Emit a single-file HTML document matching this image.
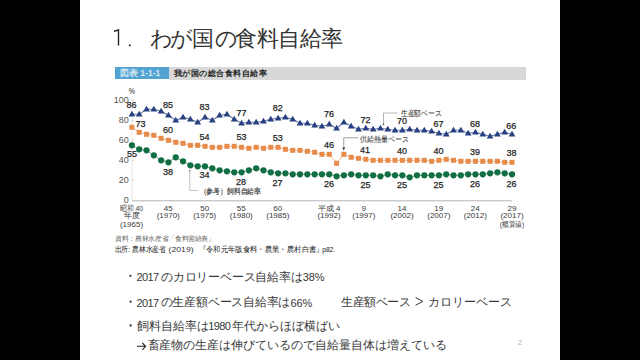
<!DOCTYPE html>
<html><head><meta charset="utf-8">
<style>
html,body{margin:0;padding:0;background:#000;width:640px;height:360px;overflow:hidden}
body{font-family:"Liberation Sans",sans-serif;position:relative}
#slide{position:absolute;left:80px;top:0;width:480px;height:360px;background:#fff}
.t{position:absolute;white-space:nowrap;line-height:1}
.b{font-size:12px;color:#383838}
.d{font-size:11px;letter-spacing:-0.6px}
svg{position:absolute;left:0;top:0}
svg text{font-family:"Liberation Sans",sans-serif}
</style></head><body>
<div id="slide"></div>
<svg width="640" height="360" viewBox="0 0 640 360">
<path d="M114,31.2L118.5,30.0L118.5,45.6" fill="none" stroke="#262626" stroke-width="1.4"/>
<rect x="128.9" y="44.4" width="1.8" height="1.8" fill="#262626"/>
<circle cx="130.4" cy="275.8" r="1.15" fill="#333"/><circle cx="130.6" cy="301.7" r="1.15" fill="#333"/><circle cx="130.7" cy="325.5" r="1.15" fill="#333"/>
<polyline points="415.6,297.6 422.9,301.4 415.6,305.2" fill="none" stroke="#333" stroke-width="1"/>
<path d="M137,346.3H145.4M142.3,343L145.6,346.3L142.3,349.8" fill="none" stroke="#222" stroke-width="1.1"/>
</svg>
<div class="t" style="left:150.00px;top:27.9px;font-size:22px;color:#333">わ</div><div class="t" style="left:169.90px;top:27.9px;font-size:22px;color:#333">が</div><div class="t" style="left:191.80px;top:27.9px;font-size:22px;color:#333">国</div><div class="t" style="left:214.60px;top:27.9px;font-size:22px;color:#333">の</div><div class="t" style="left:235.10px;top:27.9px;font-size:22px;color:#333">食</div><div class="t" style="left:257.20px;top:27.9px;font-size:22px;color:#333">料</div><div class="t" style="left:278.25px;top:27.9px;font-size:22px;color:#333">自</div><div class="t" style="left:300.00px;top:27.9px;font-size:22px;color:#333">給</div><div class="t" style="left:321.25px;top:27.9px;font-size:22px;color:#333">率</div>
<div style="position:absolute;left:115px;top:66.8px;width:53.6px;height:12.6px;background:#52a2d2"></div>
<div style="position:absolute;left:168.6px;top:66.8px;width:357px;height:12.8px;background:#d8d8d8"></div>
<div class="t" style="left:120px;top:69.3px;font-size:8.5px;color:#d2e7f4;font-weight:bold">図表 1-1-1</div>
<div class="t" style="left:174px;top:69px;font-size:9px;color:#2a2a2a;font-weight:bold;transform:scale(0.94);transform-origin:0 0">我が国の総合食料自給率</div>
<svg width="640" height="360" viewBox="0 0 640 360">
<line x1="132" y1="99" x2="132" y2="200.5" stroke="#dcdcdc" stroke-width="0.7"/>
<line x1="132" y1="200.8" x2="512" y2="200.8" stroke="#b4b4b4" stroke-width="1"/>
<line x1="132" y1="100.3" x2="134" y2="100.3" stroke="#c8c8c8" stroke-width="0.8"/>
<line x1="132" y1="120.3" x2="134" y2="120.3" stroke="#c8c8c8" stroke-width="0.8"/>
<line x1="132" y1="140.3" x2="134" y2="140.3" stroke="#c8c8c8" stroke-width="0.8"/>
<line x1="132" y1="160.3" x2="134" y2="160.3" stroke="#c8c8c8" stroke-width="0.8"/>
<line x1="132" y1="180.3" x2="134" y2="180.3" stroke="#c8c8c8" stroke-width="0.8"/>
<polyline points="131.90,114.30 139.21,114.30 146.52,109.30 153.83,109.30 161.14,111.30 168.45,115.30 175.76,120.30 183.07,117.30 190.38,119.30 197.69,122.30 205.00,117.30 212.31,120.30 219.62,115.30 226.93,114.30 234.24,119.30 241.55,123.30 248.86,122.30 256.17,122.30 263.48,121.30 270.79,119.30 278.10,118.30 285.41,117.30 292.72,119.30 300.03,123.30 307.34,123.30 314.65,125.30 321.96,126.30 329.27,124.30 336.58,128.30 343.89,122.30 351.20,126.30 358.51,129.30 365.82,128.30 373.13,129.30 380.44,128.30 387.75,129.30 395.06,130.30 402.37,130.30 409.68,129.30 416.99,130.30 424.30,130.30 431.61,131.30 438.92,133.30 446.23,134.30 453.54,130.30 460.85,130.30 468.16,133.30 475.47,132.30 482.78,134.30 490.09,136.30 497.40,134.30 504.71,132.30 512.02,134.30" fill="none" stroke="#6878ab" stroke-width="1.1"/>
<polyline points="131.90,127.30 139.21,132.30 146.52,134.30 153.83,135.30 161.14,138.30 168.45,140.30 175.76,142.30 183.07,143.30 190.38,145.30 197.69,145.30 205.00,146.30 212.31,147.30 219.62,147.30 226.93,146.30 234.24,146.30 241.55,147.30 248.86,148.30 256.17,147.30 263.48,148.30 270.79,147.30 278.10,147.30 285.41,149.30 292.72,150.30 300.03,150.30 307.34,151.30 314.65,152.30 321.96,154.30 329.27,154.30 336.58,163.30 343.89,154.30 351.20,157.30 358.51,158.30 365.82,159.30 373.13,160.30 380.44,160.30 387.75,160.30 395.06,160.30 402.37,160.30 409.68,160.30 416.99,160.30 424.30,160.30 431.61,161.30 438.92,160.30 446.23,159.30 453.54,160.30 460.85,161.30 468.16,161.30 475.47,161.30 482.78,161.30 490.09,161.30 497.40,161.30 504.71,162.30 512.02,162.30" fill="none" stroke="#eba070" stroke-width="0.8"/>
<polyline points="131.90,145.30 139.21,149.30 146.52,150.30 153.83,155.30 161.14,160.30 168.45,162.30 175.76,157.30 183.07,161.30 190.38,165.30 197.69,166.30 205.00,166.30 212.31,168.30 219.62,170.30 226.93,171.30 234.24,172.30 241.55,172.30 248.86,170.30 256.17,168.30 263.48,170.30 270.79,172.30 278.10,173.30 285.41,173.30 292.72,174.30 300.03,174.30 307.34,174.30 314.65,174.30 321.96,174.30 329.27,174.30 336.58,176.30 343.89,175.30 351.20,174.30 358.51,175.30 365.82,175.30 373.13,175.30 380.44,176.30 387.75,174.30 395.06,175.30 402.37,175.30 409.68,177.30 416.99,175.30 424.30,175.30 431.61,175.30 438.92,175.30 446.23,174.30 453.54,175.30 460.85,175.30 468.16,174.30 475.47,174.30 482.78,174.30 490.09,173.30 497.40,172.30 504.71,173.30 512.02,174.30" fill="none" stroke="#4a9070" stroke-width="0.8"/>
<path d="M128.50,116.60L135.30,116.60L131.90,110.80Z" fill="#283f80"/>
<path d="M135.81,116.60L142.61,116.60L139.21,110.80Z" fill="#283f80"/>
<path d="M143.12,111.60L149.92,111.60L146.52,105.80Z" fill="#283f80"/>
<path d="M150.43,111.60L157.23,111.60L153.83,105.80Z" fill="#283f80"/>
<path d="M157.74,113.60L164.54,113.60L161.14,107.80Z" fill="#283f80"/>
<path d="M165.05,117.60L171.85,117.60L168.45,111.80Z" fill="#283f80"/>
<path d="M172.36,122.60L179.16,122.60L175.76,116.80Z" fill="#283f80"/>
<path d="M179.67,119.60L186.47,119.60L183.07,113.80Z" fill="#283f80"/>
<path d="M186.98,121.60L193.78,121.60L190.38,115.80Z" fill="#283f80"/>
<path d="M194.29,124.60L201.09,124.60L197.69,118.80Z" fill="#283f80"/>
<path d="M201.60,119.60L208.40,119.60L205.00,113.80Z" fill="#283f80"/>
<path d="M208.91,122.60L215.71,122.60L212.31,116.80Z" fill="#283f80"/>
<path d="M216.22,117.60L223.02,117.60L219.62,111.80Z" fill="#283f80"/>
<path d="M223.53,116.60L230.33,116.60L226.93,110.80Z" fill="#283f80"/>
<path d="M230.84,121.60L237.64,121.60L234.24,115.80Z" fill="#283f80"/>
<path d="M238.15,125.60L244.95,125.60L241.55,119.80Z" fill="#283f80"/>
<path d="M245.46,124.60L252.26,124.60L248.86,118.80Z" fill="#283f80"/>
<path d="M252.77,124.60L259.57,124.60L256.17,118.80Z" fill="#283f80"/>
<path d="M260.08,123.60L266.88,123.60L263.48,117.80Z" fill="#283f80"/>
<path d="M267.39,121.60L274.19,121.60L270.79,115.80Z" fill="#283f80"/>
<path d="M274.70,120.60L281.50,120.60L278.10,114.80Z" fill="#283f80"/>
<path d="M282.01,119.60L288.81,119.60L285.41,113.80Z" fill="#283f80"/>
<path d="M289.32,121.60L296.12,121.60L292.72,115.80Z" fill="#283f80"/>
<path d="M296.63,125.60L303.43,125.60L300.03,119.80Z" fill="#283f80"/>
<path d="M303.94,125.60L310.74,125.60L307.34,119.80Z" fill="#283f80"/>
<path d="M311.25,127.60L318.05,127.60L314.65,121.80Z" fill="#283f80"/>
<path d="M318.56,128.60L325.36,128.60L321.96,122.80Z" fill="#283f80"/>
<path d="M325.87,126.60L332.67,126.60L329.27,120.80Z" fill="#283f80"/>
<path d="M333.18,130.60L339.98,130.60L336.58,124.80Z" fill="#283f80"/>
<path d="M340.49,124.60L347.29,124.60L343.89,118.80Z" fill="#283f80"/>
<path d="M347.80,128.60L354.60,128.60L351.20,122.80Z" fill="#283f80"/>
<path d="M355.11,131.60L361.91,131.60L358.51,125.80Z" fill="#283f80"/>
<path d="M362.42,130.60L369.22,130.60L365.82,124.80Z" fill="#283f80"/>
<path d="M369.73,131.60L376.53,131.60L373.13,125.80Z" fill="#283f80"/>
<path d="M377.04,130.60L383.84,130.60L380.44,124.80Z" fill="#283f80"/>
<path d="M384.35,131.60L391.15,131.60L387.75,125.80Z" fill="#283f80"/>
<path d="M391.66,132.60L398.46,132.60L395.06,126.80Z" fill="#283f80"/>
<path d="M398.97,132.60L405.77,132.60L402.37,126.80Z" fill="#283f80"/>
<path d="M406.28,131.60L413.08,131.60L409.68,125.80Z" fill="#283f80"/>
<path d="M413.59,132.60L420.39,132.60L416.99,126.80Z" fill="#283f80"/>
<path d="M420.90,132.60L427.70,132.60L424.30,126.80Z" fill="#283f80"/>
<path d="M428.21,133.60L435.01,133.60L431.61,127.80Z" fill="#283f80"/>
<path d="M435.52,135.60L442.32,135.60L438.92,129.80Z" fill="#283f80"/>
<path d="M442.83,136.60L449.63,136.60L446.23,130.80Z" fill="#283f80"/>
<path d="M450.14,132.60L456.94,132.60L453.54,126.80Z" fill="#283f80"/>
<path d="M457.45,132.60L464.25,132.60L460.85,126.80Z" fill="#283f80"/>
<path d="M464.76,135.60L471.56,135.60L468.16,129.80Z" fill="#283f80"/>
<path d="M472.07,134.60L478.87,134.60L475.47,128.80Z" fill="#283f80"/>
<path d="M479.38,136.60L486.18,136.60L482.78,130.80Z" fill="#283f80"/>
<path d="M486.69,138.60L493.49,138.60L490.09,132.80Z" fill="#283f80"/>
<path d="M494.00,136.60L500.80,136.60L497.40,130.80Z" fill="#283f80"/>
<path d="M501.31,134.60L508.11,134.60L504.71,128.80Z" fill="#283f80"/>
<path d="M508.62,136.60L515.42,136.60L512.02,130.80Z" fill="#283f80"/>
<rect x="129.40" y="124.80" width="5" height="5" fill="#e68b4a"/>
<rect x="136.71" y="129.80" width="5" height="5" fill="#e68b4a"/>
<rect x="144.02" y="131.80" width="5" height="5" fill="#e68b4a"/>
<rect x="151.33" y="132.80" width="5" height="5" fill="#e68b4a"/>
<rect x="158.64" y="135.80" width="5" height="5" fill="#e68b4a"/>
<rect x="165.95" y="137.80" width="5" height="5" fill="#e68b4a"/>
<rect x="173.26" y="139.80" width="5" height="5" fill="#e68b4a"/>
<rect x="180.57" y="140.80" width="5" height="5" fill="#e68b4a"/>
<rect x="187.88" y="142.80" width="5" height="5" fill="#e68b4a"/>
<rect x="195.19" y="142.80" width="5" height="5" fill="#e68b4a"/>
<rect x="202.50" y="143.80" width="5" height="5" fill="#e68b4a"/>
<rect x="209.81" y="144.80" width="5" height="5" fill="#e68b4a"/>
<rect x="217.12" y="144.80" width="5" height="5" fill="#e68b4a"/>
<rect x="224.43" y="143.80" width="5" height="5" fill="#e68b4a"/>
<rect x="231.74" y="143.80" width="5" height="5" fill="#e68b4a"/>
<rect x="239.05" y="144.80" width="5" height="5" fill="#e68b4a"/>
<rect x="246.36" y="145.80" width="5" height="5" fill="#e68b4a"/>
<rect x="253.67" y="144.80" width="5" height="5" fill="#e68b4a"/>
<rect x="260.98" y="145.80" width="5" height="5" fill="#e68b4a"/>
<rect x="268.29" y="144.80" width="5" height="5" fill="#e68b4a"/>
<rect x="275.60" y="144.80" width="5" height="5" fill="#e68b4a"/>
<rect x="282.91" y="146.80" width="5" height="5" fill="#e68b4a"/>
<rect x="290.22" y="147.80" width="5" height="5" fill="#e68b4a"/>
<rect x="297.53" y="147.80" width="5" height="5" fill="#e68b4a"/>
<rect x="304.84" y="148.80" width="5" height="5" fill="#e68b4a"/>
<rect x="312.15" y="149.80" width="5" height="5" fill="#e68b4a"/>
<rect x="319.46" y="151.80" width="5" height="5" fill="#e68b4a"/>
<rect x="326.77" y="151.80" width="5" height="5" fill="#e68b4a"/>
<rect x="334.08" y="160.80" width="5" height="5" fill="#e68b4a"/>
<rect x="341.39" y="151.80" width="5" height="5" fill="#e68b4a"/>
<rect x="348.70" y="154.80" width="5" height="5" fill="#e68b4a"/>
<rect x="356.01" y="155.80" width="5" height="5" fill="#e68b4a"/>
<rect x="363.32" y="156.80" width="5" height="5" fill="#e68b4a"/>
<rect x="370.63" y="157.80" width="5" height="5" fill="#e68b4a"/>
<rect x="377.94" y="157.80" width="5" height="5" fill="#e68b4a"/>
<rect x="385.25" y="157.80" width="5" height="5" fill="#e68b4a"/>
<rect x="392.56" y="157.80" width="5" height="5" fill="#e68b4a"/>
<rect x="399.87" y="157.80" width="5" height="5" fill="#e68b4a"/>
<rect x="407.18" y="157.80" width="5" height="5" fill="#e68b4a"/>
<rect x="414.49" y="157.80" width="5" height="5" fill="#e68b4a"/>
<rect x="421.80" y="157.80" width="5" height="5" fill="#e68b4a"/>
<rect x="429.11" y="158.80" width="5" height="5" fill="#e68b4a"/>
<rect x="436.42" y="157.80" width="5" height="5" fill="#e68b4a"/>
<rect x="443.73" y="156.80" width="5" height="5" fill="#e68b4a"/>
<rect x="451.04" y="157.80" width="5" height="5" fill="#e68b4a"/>
<rect x="458.35" y="158.80" width="5" height="5" fill="#e68b4a"/>
<rect x="465.66" y="158.80" width="5" height="5" fill="#e68b4a"/>
<rect x="472.97" y="158.80" width="5" height="5" fill="#e68b4a"/>
<rect x="480.28" y="158.80" width="5" height="5" fill="#e68b4a"/>
<rect x="487.59" y="158.80" width="5" height="5" fill="#e68b4a"/>
<rect x="494.90" y="158.80" width="5" height="5" fill="#e68b4a"/>
<rect x="502.21" y="159.80" width="5" height="5" fill="#e68b4a"/>
<rect x="509.52" y="159.80" width="5" height="5" fill="#e68b4a"/>
<circle cx="131.90" cy="145.30" r="3.1" fill="#106e42"/>
<circle cx="139.21" cy="149.30" r="3.1" fill="#106e42"/>
<circle cx="146.52" cy="150.30" r="3.1" fill="#106e42"/>
<circle cx="153.83" cy="155.30" r="3.1" fill="#106e42"/>
<circle cx="161.14" cy="160.30" r="3.1" fill="#106e42"/>
<circle cx="168.45" cy="162.30" r="3.1" fill="#106e42"/>
<circle cx="175.76" cy="157.30" r="3.1" fill="#106e42"/>
<circle cx="183.07" cy="161.30" r="3.1" fill="#106e42"/>
<circle cx="190.38" cy="165.30" r="3.1" fill="#106e42"/>
<circle cx="197.69" cy="166.30" r="3.1" fill="#106e42"/>
<circle cx="205.00" cy="166.30" r="3.1" fill="#106e42"/>
<circle cx="212.31" cy="168.30" r="3.1" fill="#106e42"/>
<circle cx="219.62" cy="170.30" r="3.1" fill="#106e42"/>
<circle cx="226.93" cy="171.30" r="3.1" fill="#106e42"/>
<circle cx="234.24" cy="172.30" r="3.1" fill="#106e42"/>
<circle cx="241.55" cy="172.30" r="3.1" fill="#106e42"/>
<circle cx="248.86" cy="170.30" r="3.1" fill="#106e42"/>
<circle cx="256.17" cy="168.30" r="3.1" fill="#106e42"/>
<circle cx="263.48" cy="170.30" r="3.1" fill="#106e42"/>
<circle cx="270.79" cy="172.30" r="3.1" fill="#106e42"/>
<circle cx="278.10" cy="173.30" r="3.1" fill="#106e42"/>
<circle cx="285.41" cy="173.30" r="3.1" fill="#106e42"/>
<circle cx="292.72" cy="174.30" r="3.1" fill="#106e42"/>
<circle cx="300.03" cy="174.30" r="3.1" fill="#106e42"/>
<circle cx="307.34" cy="174.30" r="3.1" fill="#106e42"/>
<circle cx="314.65" cy="174.30" r="3.1" fill="#106e42"/>
<circle cx="321.96" cy="174.30" r="3.1" fill="#106e42"/>
<circle cx="329.27" cy="174.30" r="3.1" fill="#106e42"/>
<circle cx="336.58" cy="176.30" r="3.1" fill="#106e42"/>
<circle cx="343.89" cy="175.30" r="3.1" fill="#106e42"/>
<circle cx="351.20" cy="174.30" r="3.1" fill="#106e42"/>
<circle cx="358.51" cy="175.30" r="3.1" fill="#106e42"/>
<circle cx="365.82" cy="175.30" r="3.1" fill="#106e42"/>
<circle cx="373.13" cy="175.30" r="3.1" fill="#106e42"/>
<circle cx="380.44" cy="176.30" r="3.1" fill="#106e42"/>
<circle cx="387.75" cy="174.30" r="3.1" fill="#106e42"/>
<circle cx="395.06" cy="175.30" r="3.1" fill="#106e42"/>
<circle cx="402.37" cy="175.30" r="3.1" fill="#106e42"/>
<circle cx="409.68" cy="177.30" r="3.1" fill="#106e42"/>
<circle cx="416.99" cy="175.30" r="3.1" fill="#106e42"/>
<circle cx="424.30" cy="175.30" r="3.1" fill="#106e42"/>
<circle cx="431.61" cy="175.30" r="3.1" fill="#106e42"/>
<circle cx="438.92" cy="175.30" r="3.1" fill="#106e42"/>
<circle cx="446.23" cy="174.30" r="3.1" fill="#106e42"/>
<circle cx="453.54" cy="175.30" r="3.1" fill="#106e42"/>
<circle cx="460.85" cy="175.30" r="3.1" fill="#106e42"/>
<circle cx="468.16" cy="174.30" r="3.1" fill="#106e42"/>
<circle cx="475.47" cy="174.30" r="3.1" fill="#106e42"/>
<circle cx="482.78" cy="174.30" r="3.1" fill="#106e42"/>
<circle cx="490.09" cy="173.30" r="3.1" fill="#106e42"/>
<circle cx="497.40" cy="172.30" r="3.1" fill="#106e42"/>
<circle cx="504.71" cy="173.30" r="3.1" fill="#106e42"/>
<circle cx="512.02" cy="174.30" r="3.1" fill="#106e42"/>
<text stroke="#262626" stroke-width="0.25" x="131.5" y="108.2" font-size="9" fill="#262626" text-anchor="middle" font-weight="normal">86</text>
<text stroke="#262626" stroke-width="0.25" x="168.1" y="107.7" font-size="9" fill="#262626" text-anchor="middle" font-weight="normal">85</text>
<text stroke="#262626" stroke-width="0.25" x="204.4" y="109.7" font-size="9" fill="#262626" text-anchor="middle" font-weight="normal">83</text>
<text stroke="#262626" stroke-width="0.25" x="241.5" y="115.7" font-size="9" fill="#262626" text-anchor="middle" font-weight="normal">77</text>
<text stroke="#262626" stroke-width="0.25" x="277.8" y="110.7" font-size="9" fill="#262626" text-anchor="middle" font-weight="normal">82</text>
<text stroke="#262626" stroke-width="0.25" x="329.0" y="117.1" font-size="9" fill="#262626" text-anchor="middle" font-weight="normal">76</text>
<text stroke="#262626" stroke-width="0.25" x="365.6" y="122.7" font-size="9" fill="#262626" text-anchor="middle" font-weight="normal">72</text>
<text stroke="#262626" stroke-width="0.25" x="401.9" y="124.0" font-size="9" fill="#262626" text-anchor="middle" font-weight="normal">70</text>
<text stroke="#262626" stroke-width="0.25" x="438.5" y="127.1" font-size="9" fill="#262626" text-anchor="middle" font-weight="normal">67</text>
<text stroke="#262626" stroke-width="0.25" x="475.0" y="126.5" font-size="9" fill="#262626" text-anchor="middle" font-weight="normal">68</text>
<text stroke="#262626" stroke-width="0.25" x="511.2" y="128.7" font-size="9" fill="#262626" text-anchor="middle" font-weight="normal">66</text>
<text stroke="#262626" stroke-width="0.25" x="140.6" y="126.5" font-size="9" fill="#262626" text-anchor="middle" font-weight="normal">73</text>
<text stroke="#262626" stroke-width="0.25" x="168.1" y="133.3" font-size="9" fill="#262626" text-anchor="middle" font-weight="normal">60</text>
<text stroke="#262626" stroke-width="0.25" x="204.4" y="140.2" font-size="9" fill="#262626" text-anchor="middle" font-weight="normal">54</text>
<text stroke="#262626" stroke-width="0.25" x="241.5" y="140.2" font-size="9" fill="#262626" text-anchor="middle" font-weight="normal">53</text>
<text stroke="#262626" stroke-width="0.25" x="277.8" y="140.7" font-size="9" fill="#262626" text-anchor="middle" font-weight="normal">53</text>
<text stroke="#262626" stroke-width="0.25" x="329.0" y="148.0" font-size="9" fill="#262626" text-anchor="middle" font-weight="normal">46</text>
<text stroke="#262626" stroke-width="0.25" x="365.0" y="153.0" font-size="9" fill="#262626" text-anchor="middle" font-weight="normal">41</text>
<text stroke="#262626" stroke-width="0.25" x="401.9" y="153.7" font-size="9" fill="#262626" text-anchor="middle" font-weight="normal">40</text>
<text stroke="#262626" stroke-width="0.25" x="438.5" y="153.7" font-size="9" fill="#262626" text-anchor="middle" font-weight="normal">40</text>
<text stroke="#262626" stroke-width="0.25" x="475.0" y="154.9" font-size="9" fill="#262626" text-anchor="middle" font-weight="normal">39</text>
<text stroke="#262626" stroke-width="0.25" x="511.5" y="156.3" font-size="9" fill="#262626" text-anchor="middle" font-weight="normal">38</text>
<text stroke="#262626" stroke-width="0.25" x="131.9" y="157.1" font-size="9" fill="#262626" text-anchor="middle" font-weight="normal">55</text>
<text stroke="#262626" stroke-width="0.25" x="168.1" y="174.6" font-size="9" fill="#262626" text-anchor="middle" font-weight="normal">38</text>
<text stroke="#262626" stroke-width="0.25" x="204.4" y="178.2" font-size="9" fill="#262626" text-anchor="middle" font-weight="normal">34</text>
<text stroke="#262626" stroke-width="0.25" x="241.0" y="184.9" font-size="9" fill="#262626" text-anchor="middle" font-weight="normal">28</text>
<text stroke="#262626" stroke-width="0.25" x="277.5" y="185.7" font-size="9" fill="#262626" text-anchor="middle" font-weight="normal">27</text>
<text stroke="#262626" stroke-width="0.25" x="329.0" y="186.7" font-size="9" fill="#262626" text-anchor="middle" font-weight="normal">26</text>
<text stroke="#262626" stroke-width="0.25" x="365.6" y="187.7" font-size="9" fill="#262626" text-anchor="middle" font-weight="normal">25</text>
<text stroke="#262626" stroke-width="0.25" x="402.0" y="187.7" font-size="9" fill="#262626" text-anchor="middle" font-weight="normal">25</text>
<text stroke="#262626" stroke-width="0.25" x="438.5" y="187.7" font-size="9" fill="#262626" text-anchor="middle" font-weight="normal">25</text>
<text stroke="#262626" stroke-width="0.25" x="475.0" y="187.1" font-size="9" fill="#262626" text-anchor="middle" font-weight="normal">26</text>
<text stroke="#262626" stroke-width="0.25" x="511.5" y="187.1" font-size="9" fill="#262626" text-anchor="middle" font-weight="normal">26</text>
<text x="128.8" y="103.2" font-size="9" fill="#555" text-anchor="end" font-weight="normal">100</text>
<text x="128.8" y="123.2" font-size="9" fill="#555" text-anchor="end" font-weight="normal">80</text>
<text x="128.8" y="143.2" font-size="9" fill="#555" text-anchor="end" font-weight="normal">60</text>
<text x="128.8" y="163.2" font-size="9" fill="#555" text-anchor="end" font-weight="normal">40</text>
<text x="128.8" y="183.2" font-size="9" fill="#555" text-anchor="end" font-weight="normal">20</text>
<text x="128.8" y="203.2" font-size="9" fill="#555" text-anchor="end" font-weight="normal">0</text>
<text x="131.8" y="94.2" font-size="9" fill="#222" text-anchor="middle" font-weight="normal" textLength="6.2" lengthAdjust="spacingAndGlyphs">%</text>
<text x="131.5" y="210.7" font-size="8" fill="#3a3a3a" text-anchor="middle" font-weight="normal" textLength="23" lengthAdjust="spacingAndGlyphs">昭和 40</text>
<text x="131.5" y="218.2" font-size="8" fill="#3a3a3a" text-anchor="middle" font-weight="normal">年度</text>
<text x="131.5" y="226.7" font-size="8" fill="#3a3a3a" text-anchor="middle" font-weight="normal">(1965)</text>
<text x="168.2" y="210.7" font-size="8" fill="#3a3a3a" text-anchor="middle" font-weight="normal">45</text>
<text x="168.2" y="218.2" font-size="8" fill="#3a3a3a" text-anchor="middle" font-weight="normal">(1970)</text>
<text x="204.7" y="210.7" font-size="8" fill="#3a3a3a" text-anchor="middle" font-weight="normal">50</text>
<text x="204.7" y="218.2" font-size="8" fill="#3a3a3a" text-anchor="middle" font-weight="normal">(1975)</text>
<text x="241.2" y="210.7" font-size="8" fill="#3a3a3a" text-anchor="middle" font-weight="normal">55</text>
<text x="241.2" y="218.2" font-size="8" fill="#3a3a3a" text-anchor="middle" font-weight="normal">(1980)</text>
<text x="277.8" y="210.7" font-size="8" fill="#3a3a3a" text-anchor="middle" font-weight="normal">60</text>
<text x="277.8" y="218.2" font-size="8" fill="#3a3a3a" text-anchor="middle" font-weight="normal">(1985)</text>
<text x="329.0" y="210.7" font-size="8" fill="#3a3a3a" text-anchor="middle" font-weight="normal">平成 4</text>
<text x="329.0" y="218.2" font-size="8" fill="#3a3a3a" text-anchor="middle" font-weight="normal">(1992)</text>
<text x="363.8" y="210.7" font-size="8" fill="#3a3a3a" text-anchor="middle" font-weight="normal">9</text>
<text x="363.8" y="218.2" font-size="8" fill="#3a3a3a" text-anchor="middle" font-weight="normal">(1997)</text>
<text x="402.0" y="210.7" font-size="8" fill="#3a3a3a" text-anchor="middle" font-weight="normal">14</text>
<text x="402.0" y="218.2" font-size="8" fill="#3a3a3a" text-anchor="middle" font-weight="normal">(2002)</text>
<text x="438.8" y="210.7" font-size="8" fill="#3a3a3a" text-anchor="middle" font-weight="normal">19</text>
<text x="438.8" y="218.2" font-size="8" fill="#3a3a3a" text-anchor="middle" font-weight="normal">(2007)</text>
<text x="475.3" y="210.7" font-size="8" fill="#3a3a3a" text-anchor="middle" font-weight="normal">24</text>
<text x="475.3" y="218.2" font-size="8" fill="#3a3a3a" text-anchor="middle" font-weight="normal">(2012)</text>
<text x="512.0" y="210.7" font-size="8" fill="#3a3a3a" text-anchor="middle" font-weight="normal">29</text>
<text x="512.0" y="218.2" font-size="8" fill="#3a3a3a" text-anchor="middle" font-weight="normal">(2017)</text>
<text x="512.0" y="226.7" font-size="8" fill="#3a3a3a" text-anchor="middle" font-weight="normal" textLength="24.5" lengthAdjust="spacingAndGlyphs">(概算値)</text>
<polyline points="189.8,171 189.8,190.5 198.3,190.5" fill="none" stroke="#aaa" stroke-width="0.7"/><circle cx="189.8" cy="170.8" r="0.8" fill="#666"/>
<text stroke="#333" stroke-width="0.15" x="199.6" y="193.5" font-size="8" fill="#333" text-anchor="start" font-weight="normal" textLength="61.5" lengthAdjust="spacingAndGlyphs">（参考）飼料自給率</text>
<polyline points="383.5,124 383.5,113 397.5,113" fill="none" stroke="#999" stroke-width="0.7"/><circle cx="383.5" cy="124.2" r="0.8" fill="#333"/>
<text x="400.6" y="115.7" font-size="8" fill="#222" text-anchor="start" font-weight="normal" textLength="41.5" lengthAdjust="spacingAndGlyphs">生産額ベース</text>
<polyline points="343.75,149 343.75,137.75 358,137.75" fill="none" stroke="#777" stroke-width="0.7"/>
<path d="M342.3,147.5L345.2,147.5L343.75,150.5Z" fill="#333"/>
<text x="359.6" y="141.6" font-size="8" fill="#222" text-anchor="start" font-weight="normal" textLength="49.5" lengthAdjust="spacingAndGlyphs">供給熱量ベース</text>
</svg>
<div class="t" style="left:114.5px;top:234.6px;font-size:7px;color:#666;transform:scale(0.95);transform-origin:0 0">資料：農林水産省「食料需給表」</div>
<svg width="640" height="360" viewBox="0 0 640 360" style="position:absolute;left:0;top:0">
<g font-size="7.6" fill="#151515" font-family="Liberation Sans, sans-serif">
<text x="114.6" y="251.8" textLength="51.6" lengthAdjust="spacingAndGlyphs">出所: 農林水産省</text>
<text x="168.6" y="251.6" font-size="7" textLength="25" lengthAdjust="spacingAndGlyphs" fill="#333">(2019)</text>
<text x="198.6" y="251.8" textLength="125" lengthAdjust="spacingAndGlyphs">『令和元年版食料・農業・農村白書』</text>
<text x="322.2" y="251.8" textLength="13" lengthAdjust="spacingAndGlyphs">p82.</text>
</g></svg>
<div class="t b d" id="s0" style="left:136.40px;top:272.30px;">2017</div>
<div class="t b" id="s1" style="left:161.00px;top:270.60px;letter-spacing:-0.2px">のカロリーベース自給率は</div>
<div class="t b d" id="s2" style="left:302.80px;top:272.30px;letter-spacing:-0.1px">38%</div>
<div class="t b d" id="s3" style="left:136.40px;top:298.30px;">2017</div>
<div class="t b" id="s4" style="left:160.70px;top:296.20px;letter-spacing:-0.22px">の生産額ベース自給率は</div>
<div class="t b d" id="s5" style="left:290.55px;top:298.30px;letter-spacing:-0.1px">66%</div>
<div class="t b" id="s6" style="left:341.15px;top:296.20px;letter-spacing:-0.45px">生産額ベース</div>
<div class="t b" id="s7" style="left:427.75px;top:296.20px;">カロリーベース</div>
<div class="t b" id="s8" style="left:136.70px;top:319.60px;">飼料自給率は</div>
<div class="t b d" id="s9" style="left:208.25px;top:321.30px;">1980</div>
<div class="t b" id="s10" style="left:231.50px;top:319.60px;">年代からほぼ横ばい</div>
<div class="t b" id="s11" style="left:147.50px;top:339.40px;letter-spacing:-0.04px">畜産物の生産は伸びているので自給量自体は増えている</div>

<div class="t" style="left:518px;top:339px;font-size:7px;color:#aaa">2</div>
</body></html>
